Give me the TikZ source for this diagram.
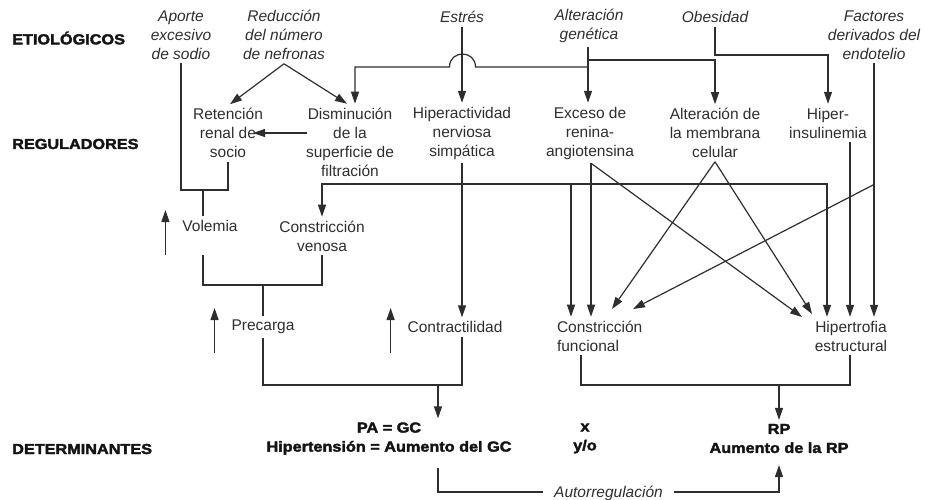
\documentclass[tikz,border=0pt]{standalone}
\usepackage{fontspec}
\setmainfont{Liberation Sans}
\newfontfamily\heavy[FakeStretch=1.12,FakeBold=2.5]{Liberation Sans Bold}
\usetikzlibrary{arrows.meta,calc}
\definecolor{ink}{HTML}{2E2E2E}
\definecolor{lab}{HTML}{141414}
\begin{document}
\begin{tikzpicture}[x=1pt,y=-1pt,
  txt/.style={inner sep=0pt,outer sep=4pt,align=center,text=ink,font=\fontsize{15.5}{19}\selectfont},
  etio/.style={txt,font=\fontsize{15.5}{19}\selectfont\itshape},
  lbl/.style={inner sep=0pt,anchor=west,text=lab,font=\fontsize{14.5}{18}\selectfont\heavy},
  det/.style={inner sep=0pt,outer sep=4pt,align=center,text=lab,font=\fontsize{14.5}{19}\selectfont\heavy},
  ln/.style={draw=ink,line width=1.2pt},
  arr/.style={ln,-{Triangle[length=12pt,width=8pt]}},
]
\useasboundingbox (0,0) rectangle (925,499);

% helper coordinates
\foreach \v in {55,60,67,184,190,285,385,468,492,465}{\coordinate (y\v) at (0,\v);}
\foreach \v in {203,263,355,438,462,571,581,588,591,779,827,850}{\coordinate (x\v) at (\v,0);}
\coordinate (hopR) at (475.5,67);
\coordinate (hopL) at (449.5,67);
\coordinate (jF) at (873,185);
\coordinate (tF3) at (612,309);
\coordinate (tF4) at (633,309);
\coordinate (tH1) at (802,317);
\coordinate (tH2) at (812,314);

% row labels
\node[lbl] (etiol) at (12,38) {ETIOLÓGICOS};
\node[lbl] (regul) at (12,144) {REGULADORES};
\node[lbl] (determ) at (12,449) {DETERMINANTES};

% etiological factors
\node[etio] (aporte) at (181,35) {Aporte\\excesivo\\de sodio};
\node[etio] (reduc) at (284,35) {Reducción\\del número\\de nefronas};
\node[etio] (estres) at (462,17) {Estrés};
\node[etio] (genet) at (589,26) {Alteración\\genética};
\node[etio] (obes) at (715,17) {Obesidad};
\node[etio] (factores) at (874,35) {Factores\\derivados del\\endotelio};

% regulators
\node[txt] (reten) at (228,133) {Retención\\renal de\\socio};
\node[txt] (dismin) at (350,142) {Disminución\\de la\\superficie de\\filtración};
\node[txt] (hiperact) at (462,133) {Hiperactividad\\nerviosa\\simpática};
\node[txt] (exceso) at (590,133) {Exceso de\\renina-\\angiotensina};
\node[txt] (membr) at (715,133) {Alteración de\\la membrana\\celular};
\node[txt] (hiperins) at (828,123) {Hiper-\\insulinemia};

\node[txt] (volemia) at (210,226) {Volemia};
\node[txt] (venosa) at (322,236) {Constricción\\venosa};
\node[txt] (precarga) at (263,327) {Precarga};
\node[txt] (contract) at (455,327) {Contractilidad};
\node[txt,align=left,anchor=west] (funcional) at (553,336) {Constricción\\funcional};
\node[txt] (hipertr) at (851,336) {Hipertrofia\\estructural};

% determinants
\node[det] (gc) at (389,438.5) {PA = GC\\Hipertensión = Aumento del GC};
\node[det] (xyo) at (585,438.5) {x\\y/o};
\node[det] (rp) at (779,438.5) {RP\\Aumento de la RP};

% Aporte + Retencion -> Volemia
\draw[ln] (aporte.south) |- (x203 |- y190) -| (reten.south);
\draw[ln] (x203 |- y190) -- (x203 |- volemia.north);

% Reduccion
\draw[arr] (reduc.south) -- ([xshift=2pt]reten.north);
\draw[arr] (reduc.south) -- ([xshift=-3pt]dismin.north);

% Disminucion -> Retencion
\draw[arr] ([xshift=5pt,yshift=9pt]dismin.west) -- ++(-54,0);

% Estres
\draw[arr] (estres.south) -- (hiperact.north);

% Alteracion genetica
\draw[arr] (x588 |- genet.south) -- (x588 |- exceso.north);
\draw[arr] (x588 |- y60) -| (membr.north);
\draw[arr] (x588 |- y67) -- (hopR) .. controls +(0,-17.3) and +(0,-17.3) .. (hopL)
  -- (x355 |- y67) -- (x355 |- dismin.north);

% Obesidad
\draw[arr] (obes.south) -- (obes.south |- y55) -| (hiperins.north);

% Factores derivados del endotelio
\draw[arr] (factores.south) -- (factores.south |- hipertr.north);
\draw[arr] (jF) -- (tF4);

% Hiperinsulinemia
\draw[arr] (x850 |- hiperins.south) -- (x850 |- hipertr.north);

% Hiperactividad nerviosa simpatica
\draw[arr] (hiperact.south) -- (hiperact.south |- contract.north);
\draw[arr] (x462 |- y184) -| (venosa.north);
\draw[arr] (x462 |- y184) -| (x827 |- hipertr.north);
\draw[arr] (x571 |- y184) -- (x571 |- funcional.north);

% Exceso de renina-angiotensina
\draw[arr] (x591 |- exceso.south) -- (x591 |- funcional.north);
\draw[arr] (x591 |- exceso.south) -- (tH1);

% Alteracion de la membrana
\draw[arr] (membr.south) -- (tF3);
\draw[arr] (membr.south) -- (tH2);

% Volemia + Constriccion venosa -> Precarga
\draw[ln] (x203 |- venosa.south) -- (x203 |- y285) -| (venosa.south);
\draw[ln] (x263 |- y285) -- (precarga.north);

% up arrows
\draw[arr] ([xshift=-13pt,yshift=-29pt]volemia.west) -- ++(0,-45);
\draw[arr] ([xshift=-13pt,yshift=-26pt]precarga.west) -- ++(0,-45);
\draw[arr] ([xshift=-13pt,yshift=-26pt]contract.west) -- ++(0,-45);

% Precarga + Contractilidad -> GC
\draw[ln] (precarga.south) -- (precarga.south |- y385) -| (x462 |- contract.south);
\draw[arr] (x438 |- y385) -- (x438 |- gc.north);

% Constriccion funcional + Hipertrofia -> RP
\draw[ln] (x581 |- funcional.south) -- (x581 |- y385) -| (x850 |- hipertr.south);
\draw[arr] (x779 |- y385) -- (rp.north);

% Autorregulacion
\draw[arr] (x438 |- y468) -- (x438 |- y492)
  -- node[etio,fill=white,inner xsep=11pt,inner ysep=1pt,outer sep=0pt,yshift=-1pt] (autor) {Autorregulación}
  (x779 |- y492) -- (x779 |- y465);
\end{tikzpicture}
\end{document}
